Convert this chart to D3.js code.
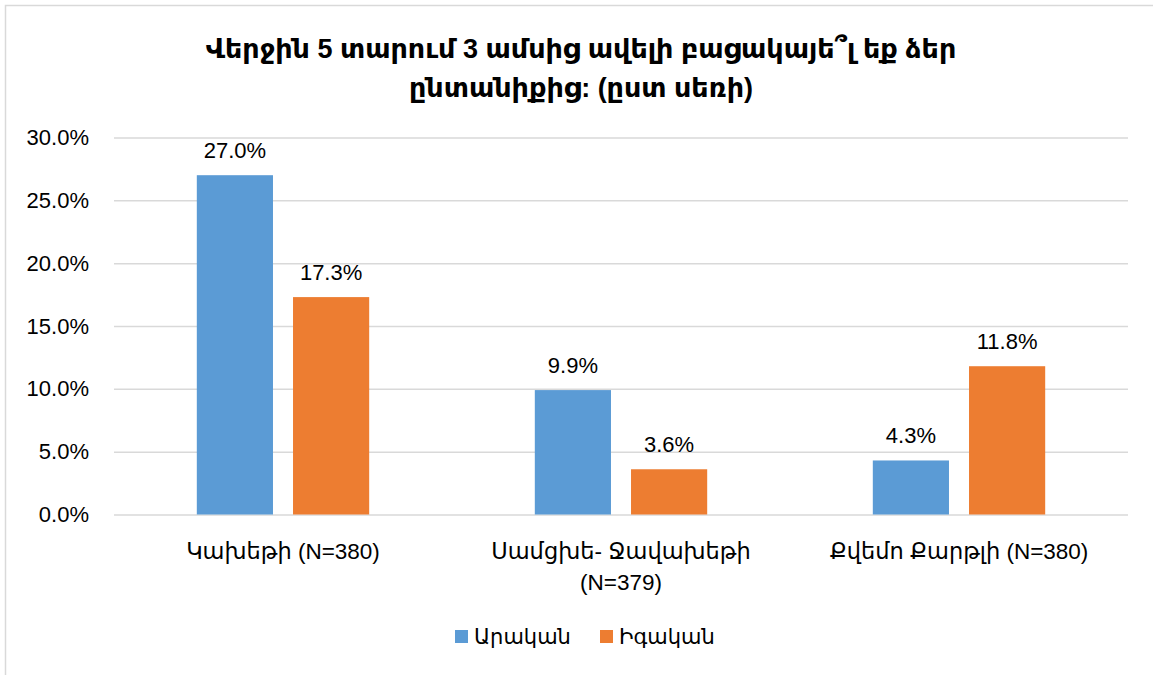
<!DOCTYPE html>
<html>
<head>
<meta charset="utf-8">
<script src="https://cdn.jsdelivr.net/npm/d3@7"></script>
<style>
  body { margin: 0; background: #fff; }
  text { font-family: "Liberation Sans", "DejaVu Sans", sans-serif; fill: #000; }
</style>
</head>
<body>
<script>
const width = 1153;
const height = 675;

// data
const categories = ["Կախեթի (N=380)", "Սամցխե- Ջավախեթի (N=379)", "Քվեմո Քարթլի (N=380)"];
const categoryLines = [["Կախեթի (N=380)"], ["Սամցխե- Ջավախեթի", "(N=379)"], ["Քվեմո Քարթլի (N=380)"]];
const seriesNames = ["Արական", "Իգական"];
const maleValues = [27.0, 9.9, 4.3];
const femaleValues = [17.3, 3.6, 11.8];
const tickValues = [0, 5, 10, 15, 20, 25, 30];
const titleLines = ["Վերջին 5 տարում 3 ամսից ավելի բացակայե՞լ եք ձեր", "ընտանիքից: (ըստ սեռի)"];

const colors = ["#5b9bd5", "#ed7d31"];
const gridColor = "#d9d9d9";

const margin = { left: 114, right: 25, top: 137.5, bottom: 160.5 };

const svg = d3.select("body").append("svg")
    .attr("width", width)
    .attr("height", height);

// chart frame (runs off right and bottom edges in the reference)
svg.append("rect")
    .attr("x", 5.5)
    .attr("y", 5.5)
    .attr("width", width)
    .attr("height", height)
    .attr("fill", "none")
    .attr("stroke", gridColor)
    .attr("stroke-width", 1.5);

const y = d3.scaleLinear()
    .domain([0, 30])
    .range([height - margin.bottom, margin.top]);

const x0 = d3.scaleBand()
    .domain(categories)
    .range([margin.left, width - margin.right])
    .paddingInner(0.49)
    .paddingOuter(0.245);

const x1 = d3.scaleBand()
    .domain(seriesNames)
    .range([0, x0.bandwidth()])
    .paddingInner(0.2083);

// gridlines
svg.append("g")
    .attr("transform", `translate(${margin.left},0)`)
    .call(d3.axisLeft(y).tickValues(tickValues).tickSize(-(width - margin.left - margin.right)).tickFormat(""))
    .call(g => g.select(".domain").remove())
    .call(g => g.selectAll("line").attr("stroke", gridColor).attr("stroke-width", 1.5));

// y tick labels
svg.append("g")
    .attr("transform", `translate(${margin.left},0)`)
    .call(d3.axisLeft(y).tickValues(tickValues).tickSize(0).tickPadding(25).tickFormat(d => d.toFixed(1) + "%"))
    .call(g => g.select(".domain").remove())
    .call(g => g.selectAll("text")
        .style("font-family", "'Liberation Sans', sans-serif")
        .style("font-size", "22px")
        .attr("fill", "#000"));

const rows = categories.map((c, i) => ({ cat: c, values: [maleValues[i], femaleValues[i]] }));

const groups = svg.append("g").selectAll("g")
    .data(rows)
    .join("g")
    .attr("transform", d => `translate(${x0(d.cat)},0)`);

groups.selectAll("rect")
    .data(d => d.values.map((v, j) => ({ name: seriesNames[j], value: v, j })))
    .join("rect")
    .attr("x", d => x1(d.name))
    .attr("y", d => y(d.value))
    .attr("width", x1.bandwidth())
    .attr("height", d => y(0) - y(d.value))
    .attr("fill", d => colors[d.j]);

groups.selectAll("text.value")
    .data(d => d.values.map((v, j) => ({ name: seriesNames[j], value: v })))
    .join("text")
    .attr("class", "value")
    .attr("x", d => x1(d.name) + x1.bandwidth() / 2)
    .attr("y", d => y(d.value) - 17)
    .attr("text-anchor", "middle")
    .style("font-size", "22px")
    .text(d => d.value.toFixed(1) + "%");

// category labels
const catLabels = svg.append("g").selectAll("text")
    .data(categories)
    .join("text")
    .attr("x", d => x0(d) + x0.bandwidth() / 2)
    .attr("y", 559)
    .attr("text-anchor", "middle")
    .style("font-size", "22.5px");

catLabels.each(function(d, i) {
    d3.select(this).selectAll("tspan")
        .data(categoryLines[i])
        .join("tspan")
        .attr("x", x0(d) + x0.bandwidth() / 2)
        .attr("dy", (t, k) => k === 0 ? 0 : 31)
        .text(t => t);
});

// title
svg.append("text")
    .attr("x", 581)
    .attr("y", 58)
    .attr("text-anchor", "middle")
    .style("font-size", "27px")
    .style("font-weight", "bold")
    .selectAll("tspan")
    .data(titleLines)
    .join("tspan")
    .attr("x", 581)
    .attr("dy", (t, k) => k === 0 ? 0 : 39)
    .text(t => t);

// legend
const legendX = [455, 600];
const legend = svg.append("g").selectAll("g")
    .data(seriesNames)
    .join("g")
    .attr("transform", (d, i) => `translate(${legendX[i]},630)`);

legend.append("rect")
    .attr("width", 13)
    .attr("height", 13)
    .attr("fill", (d, i) => colors[i]);

legend.append("text")
    .attr("x", 19)
    .attr("y", 14)
    .style("font-size", "21px")
    .text(d => d);
</script>
</body>
</html>
